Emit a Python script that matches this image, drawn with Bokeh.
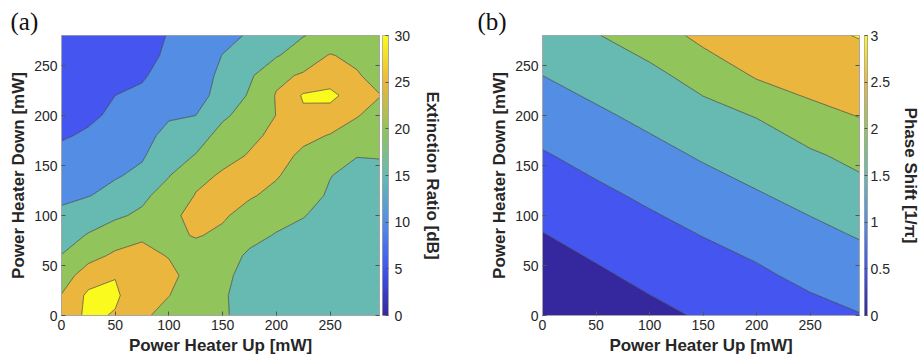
import numpy as np
from bokeh.plotting import figure
from bokeh.layouts import row
from bokeh.models import (LinearAxis, FixedTicker, LinearColorMapper,
                          NumeralTickFormatter, Range1d, CustomJSTickFormatter)
from bokeh.embed import file_html
from bokeh.resources import INLINE

# ---------------- data ----------------
er_up = [0, 25, 50, 75, 100, 125, 150, 175, 200, 225, 250, 275, 296]
er_down = [0, 20, 40, 60, 80, 100, 120, 140, 160, 180, 200, 220, 240, 260, 280]
extinction_db = [
    [27.0, 31.0, 29.6, 26.0, 23.0, 21.5, 20.5, 18.5, 17.5, 17.0, 17.0, 17.0, 17.0],
    [25.2, 31.0, 30.8, 26.5, 25.1, 22.0, 20.4, 18.5, 17.5, 17.0, 17.0, 17.0, 17.0],
    [22.6, 27.5, 29.8, 29.0, 26.5, 22.5, 20.8, 18.8, 17.8, 17.2, 17.0, 17.0, 17.0],
    [20.1, 23.3, 25.8, 26.5, 24.7, 23.0, 22.0, 19.3, 18.3, 17.8, 17.5, 17.3, 17.2],
    [18.2, 20.3, 22.5, 24.3, 24.0, 25.3, 24.2, 21.3, 19.7, 18.7, 18.0, 17.6, 17.4],
    [16.1, 18.0, 19.3, 20.8, 24.2, 26.0, 25.5, 23.5, 21.5, 20.2, 18.5, 17.8, 17.5],
    [13.9, 14.8, 16.5, 19.0, 22.0, 25.2, 26.3, 25.4, 24.0, 21.3, 19.6, 18.5, 18.0],
    [12.7, 13.7, 14.6, 16.0, 19.8, 24.0, 25.4, 26.4, 25.3, 23.3, 20.1, 19.0, 18.6],
    [11.3, 12.6, 14.0, 14.5, 18.0, 20.2, 24.0, 25.2, 26.5, 24.2, 21.0, 20.1, 20.3],
    [9.5, 10.6, 12.8, 13.2, 16.6, 18.0, 21.5, 24.4, 25.6, 26.0, 24.8, 22.5, 21.5],
    [8.3, 9.2, 10.8, 12.0, 14.4, 15.0, 19.3, 21.7, 25.1, 29.2, 27.5, 25.3, 23.0],
    [7.0, 7.8, 10.0, 11.0, 13.3, 14.2, 15.8, 20.6, 25.3, 30.5, 31.5, 27.0, 25.2],
    [6.2, 6.8, 8.3, 9.4, 12.2, 13.5, 15.7, 19.2, 24.0, 25.5, 27.0, 25.5, 23.0],
    [5.8, 6.2, 7.2, 8.5, 10.8, 12.7, 15.1, 17.5, 19.6, 22.5, 25.3, 23.8, 22.5],
    [5.5, 5.8, 6.5, 7.8, 10.3, 12.0, 13.8, 15.4, 17.5, 19.8, 21.5, 22.0, 21.5],
]

ps_up = [0, 50, 100, 150, 200, 250, 296]
ps_down = [0, 40, 80, 120, 160, 200, 240, 280]
phase_shift = [
    [0.03, 0.20, 0.38, 0.55, 0.66, 0.82, 0.98],
    [0.26, 0.43, 0.61, 0.76, 0.91, 1.13, 1.25],
    [0.48, 0.66, 0.84, 1.01, 1.19, 1.37, 1.53],
    [0.72, 0.90, 1.08, 1.28, 1.46, 1.64, 1.82],
    [0.96, 1.15, 1.35, 1.55, 1.73, 1.93, 2.13],
    [1.23, 1.42, 1.62, 1.86, 2.02, 2.33, 2.52],
    [1.50, 1.70, 1.90, 2.15, 2.55, 2.75, 2.80],
    [1.78, 1.98, 2.20, 2.65, 2.85, 2.90, 3.02],
]

er_levels = [0, 5, 10, 15, 20, 25, 30, 35]
ps_levels = [0, 0.5, 1.0, 1.5, 2.0, 2.5, 3.0, 3.5]
axis_ticks = [0, 50, 100, 150, 200, 250]
er_ticks = [0, 5, 10, 15, 20, 25, 30]
ps_ticks = [0, 0.5, 1, 1.5, 2, 2.5, 3]

# ---------------- styling ----------------
band_colors = ["#35289f", "#4455f0", "#548ee4", "#66bab2", "#92c45c", "#ebb63e", "#fafa1e"]
ANCH = [(53, 40, 158), (66, 85, 240), (84, 142, 228), (102, 187, 178),
        (146, 196, 92), (235, 182, 62), (250, 250, 30)]


def make_palette(n=256):
    pos = np.linspace(0, 1, len(ANCH))
    arr = np.array(ANCH, dtype=float)
    t = np.linspace(0, 1, n)
    out = []
    for v in t:
        r = np.interp(v, pos, arr[:, 0]); g = np.interp(v, pos, arr[:, 1]); b = np.interp(v, pos, arr[:, 2])
        out.append("#%02x%02x%02x" % (int(round(r)), int(round(g)), int(round(b))))
    return out


PAL = make_palette()
FONT = "Liberation Sans"
TXT = "#262626"
FRAME = "#a6a6a6"
TICKC = "#555555"


def blank():
    return CustomJSTickFormatter(code="return ''")


def style_axis(ax, ticks, label=None, std=4, lstd=3):
    ax.ticker = FixedTicker(ticks=ticks)
    ax.major_tick_in = 4
    ax.major_tick_out = 0
    ax.minor_tick_line_color = None
    ax.axis_line_color = FRAME
    ax.major_tick_line_color = TICKC
    ax.major_label_text_font = FONT
    ax.major_label_text_font_size = "14px"
    ax.major_label_text_color = TXT
    ax.major_label_standoff = std
    if label:
        ax.axis_label = label
        ax.axis_label_text_font = FONT
        ax.axis_label_text_font_size = "17px"
        ax.axis_label_text_font_style = "bold"
        ax.axis_label_text_color = TXT
        ax.axis_label_standoff = lstd


def make_panel(xs, ys, zs, levels, width, left, tag, tag_off):
    p = figure(width=width, height=360, x_range=Range1d(0, 296), y_range=Range1d(0, 280),
               toolbar_location=None, output_backend="svg",
               min_border_left=left, min_border_right=1, min_border_top=35, min_border_bottom=45)
    p.grid.visible = False
    p.outline_line_color = FRAME
    p.contour(x=xs, y=ys, z=np.array(zs), levels=levels, fill_color=band_colors,
              line_color="#2b2b2b", line_width=0.6)
    style_axis(p.xaxis[0], axis_ticks, "Power Heater Up [mW]", std=4, lstd=3)
    style_axis(p.yaxis[0], axis_ticks, "Power Heater Down [mW]", std=4, lstd=3)
    right = LinearAxis(formatter=blank())
    style_axis(right, axis_ticks, std=0)
    p.add_layout(right, "right")
    p.title.text = tag
    p.title.text_font = "Liberation Serif"
    p.title.text_font_size = "25px"
    p.title.text_font_style = "normal"
    p.title.text_color = "#111111"
    p.title.align = "left"
    p.title.offset = tag_off
    p.title.standoff = 2
    return p


def make_cbar(lo, hi, ticks, label, width, left, frame_w, std, lstd, fmt=None):
    c = figure(width=width, height=360, x_range=Range1d(0, 1), y_range=Range1d(lo, hi),
               x_axis_type=None, y_axis_location="right", toolbar_location=None,
               output_backend="svg", min_border_left=left,
               min_border_right=width - left - frame_w, min_border_top=35, min_border_bottom=45)
    c.grid.visible = False
    c.outline_line_color = FRAME
    grad = np.linspace(lo, hi, 256).reshape(256, 1)
    c.image(image=[grad], x=0, y=lo, dw=1, dh=hi - lo,
            color_mapper=LinearColorMapper(palette=PAL, low=lo, high=hi))
    ax = c.yaxis[0]
    style_axis(ax, ticks, label, std=std, lstd=lstd)
    ax.major_tick_in = 3
    if fmt is not None:
        ax.formatter = fmt
    return c


pa = make_panel(er_up, er_down, extinction_db, er_levels, 380, 61, "(a)", -51)
ca = make_cbar(0, 30, er_ticks, "Extinction Ratio [dB]", 80, 2, 6, 6, 10)
pb = make_panel(ps_up, ps_down, phase_shift, ps_levels, 400, 82, "(b)", -65)
cb = make_cbar(0, 3, ps_ticks, "Phase Shift [1/\u03c0]", 62, 4, 9, 3, 8,
               fmt=NumeralTickFormatter(format="0.[0]"))

layout = row(pa, ca, pb, cb, spacing=0)
open("out.html", "w").write(file_html(layout, INLINE))
